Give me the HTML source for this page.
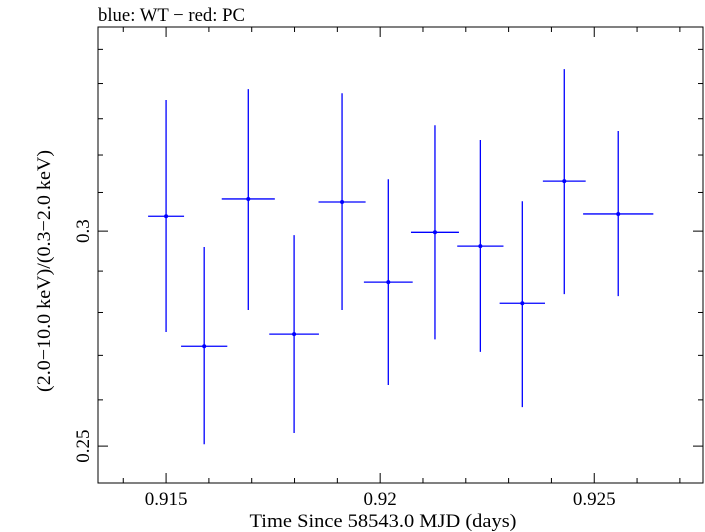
<!DOCTYPE html>
<html><head><meta charset="utf-8"><style>
body{margin:0;background:#fff}
svg{display:block;font-family:"Liberation Serif",serif}
</style></head><body>
<svg id="chart" width="705" height="532" viewBox="0 0 705 532" xmlns="http://www.w3.org/2000/svg">
<text x="98" y="21" font-size="19" textLength="147" lengthAdjust="spacingAndGlyphs">blue: WT − red: PC</text>
<rect x="98" y="27" width="605" height="456" fill="none" stroke="#000" stroke-width="1"/>
<g id="ticks"></g>
<g id="marks"></g>
<text x="383" y="527" font-size="19" text-anchor="middle" textLength="267" lengthAdjust="spacingAndGlyphs">Time Since 58543.0 MJD (days)</text>
<text transform="translate(50,271) rotate(-90)" font-size="19" text-anchor="middle" textLength="242" lengthAdjust="spacingAndGlyphs">(2.0−10.0 keV)/(0.3−2.0 keV)</text>
</svg>
<script>
const times=[0.91500,0.91589,0.91692,0.91799,0.91911,0.92019,0.92128,0.92234,0.92332,0.92430,0.92556];
const timeErr=[0.00042,0.00054,0.00062,0.00058,0.00055,0.00057,0.00056,0.00054,0.00053,0.00050,0.00082];
const ratios=[0.3038,0.2721,0.3083,0.2749,0.3075,0.2873,0.2997,0.2962,0.2822,0.3130,0.3044];
const ratioLow=[0.2754,0.2504,0.2806,0.2528,0.2806,0.2633,0.2737,0.2708,0.2584,0.2844,0.2839];
const ratioHigh=[0.3353,0.2960,0.3384,0.2990,0.3372,0.3135,0.3282,0.3241,0.3077,0.3442,0.3266];
const xTickLabels=["0.915","0.92","0.925"];
const yTickLabels=["0.25","0.3"];

const L=98,R=703,T=27,B=483;
const x0=0.91341,x1=0.92754,y0=0.2423,y1=0.3567;
const X=v=>L+(v-x0)/(x1-x0)*(R-L);
const Y=v=>B-(Math.log(v)-Math.log(y0))/(Math.log(y1)-Math.log(y0))*(B-T);
const NS="http://www.w3.org/2000/svg";
function mk(tag,attrs,parent){const e=document.createElementNS(NS,tag);for(const k in attrs)e.setAttribute(k,attrs[k]);parent.appendChild(e);return e;}
const tg=document.getElementById('ticks');
const mg=document.getElementById('marks');
const svg=document.getElementById('chart');
for(let i=914;i<=927;i++){
  const v=i/1000;const px=X(v);if(px<L||px>R)continue;
  const major=i%5===0;const len=major?10:5;
  const a=mk('line',{x1:px,x2:px,y1:B,y2:B-len,stroke:'#000'},tg);
  
  
  const b=mk('line',{x1:px,x2:px,y1:T,y2:T+len,stroke:'#000'},tg);
  
  
}
xTickLabels.forEach(s=>{
  const t=mk('text',{x:X(parseFloat(s)),y:505,'font-size':19,'text-anchor':'middle'},svg);
  t.textContent=s;
  
  
});
for(let i=25;i<=35;i++){
  const v=i/100;const py=Y(v);if(py<T||py>B)continue;
  const major=(i===25||i===30);const len=major?10:5;
  const a=mk('line',{x1:L,x2:L+len,y1:py,y2:py,stroke:'#000'},tg);
  
  
  const b=mk('line',{x1:R,x2:R-len,y1:py,y2:py,stroke:'#000'},tg);
  
  
}
yTickLabels.forEach(s=>{
  const py=Y(parseFloat(s));
  const t=mk('text',{transform:`translate(89,${py}) rotate(-90)`,'font-size':19,'text-anchor':'middle'},svg);
  t.textContent=s;
  
  
});
times.forEach((t,i)=>{
  const g=mk('g',{},mg);
  
  
  const cx=X(t),cy=Y(ratios[i]);
  mk('line',{x1:X(t-timeErr[i]),x2:X(t+timeErr[i]),y1:cy,y2:cy,stroke:'#0000ff','stroke-width':1.3},g);
  mk('line',{x1:cx,x2:cx,y1:Y(ratioLow[i]),y2:Y(ratioHigh[i]),stroke:'#0000ff','stroke-width':1.3},g);
  mk('circle',{cx:cx,cy:cy,r:2,fill:'#0000ff'},g);
});
</script>
</body></html>
